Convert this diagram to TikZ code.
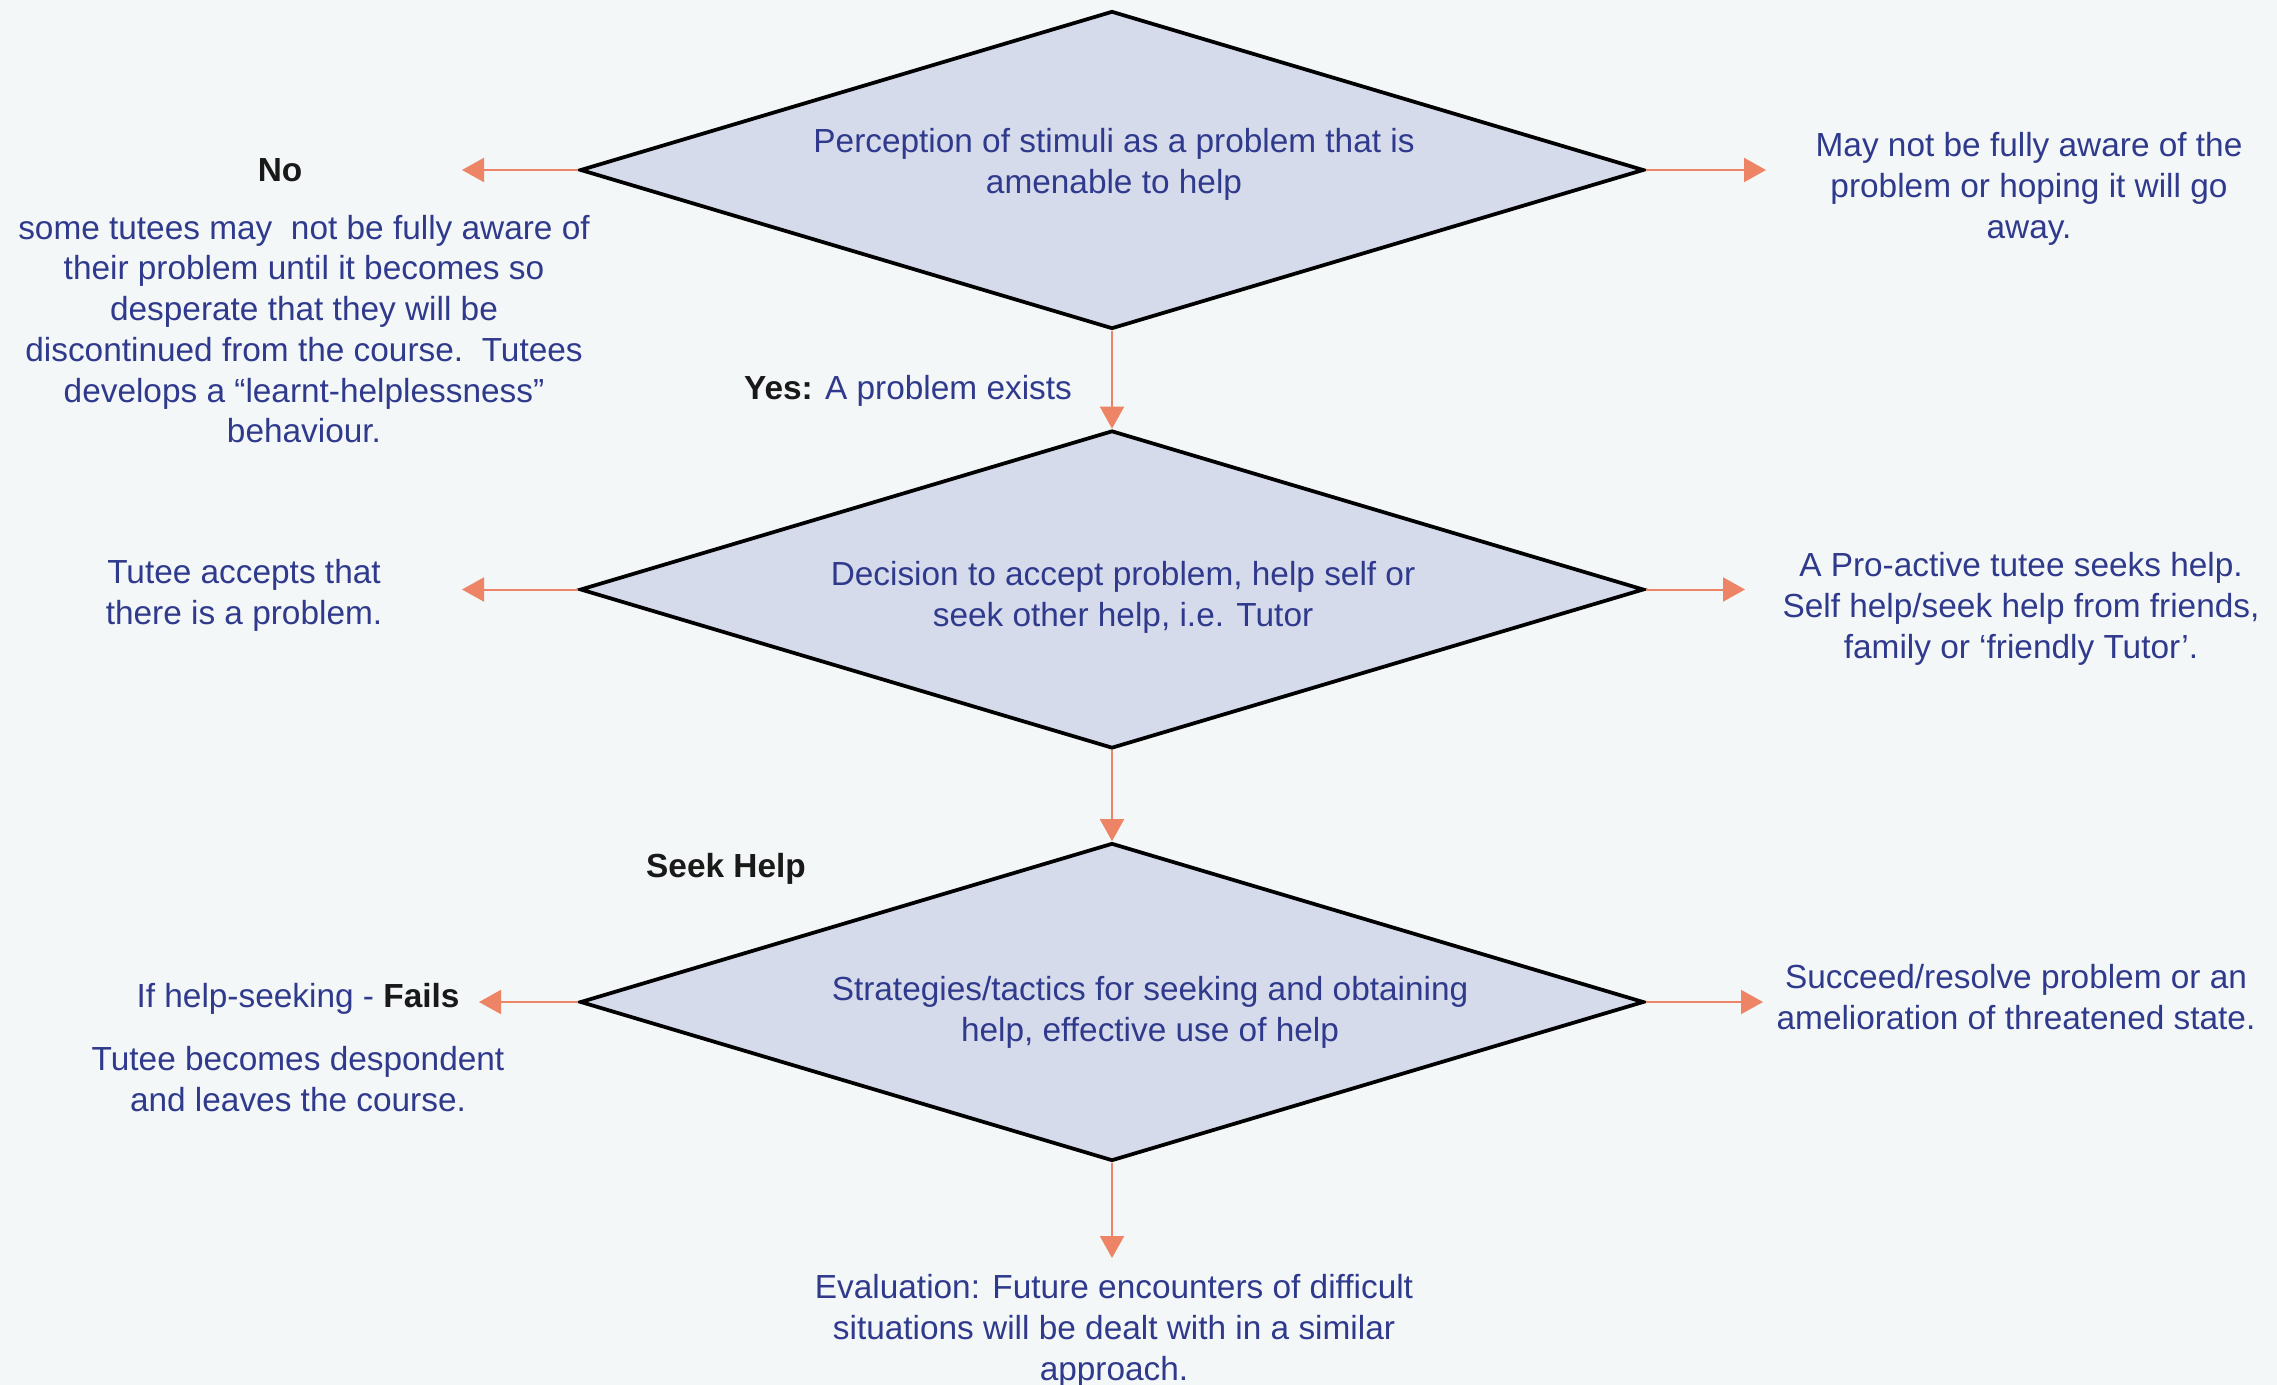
\documentclass[tikz,border=0pt]{standalone}
\usepackage{fontspec}
\setmainfont{Liberation Sans}
\usetikzlibrary{shapes.geometric,arrows.meta}
\definecolor{bg}{RGB}{243,247,248}
\definecolor{txt}{RGB}{48,58,140}
\definecolor{dfill}{RGB}{214,219,236}
\definecolor{arr}{RGB}{238,132,102}
\definecolor{lab}{RGB}{25,25,25}
\begin{document}
\begin{tikzpicture}[x=0.02cm,y=-0.02cm,
  dec/.style={diamond, draw=black, fill=dfill, line width=0.075cm, minimum width=21.28cm, minimum height=6.36cm, inner sep=0pt, aspect=3.37},
  tx/.style={text=txt, font=\fontsize{19}{23.2}\selectfont, align=center, inner sep=0pt},
  lb/.style={text=lab, font=\fontsize{19}{23.2}\selectfont\bfseries, inner sep=0pt},
  flow/.style={draw=arr, line width=0.04cm, -{Triangle[length=0.44cm,width=0.48cm]}}]
\fill[bg] (0,0) rectangle (2277,1385);
\useasboundingbox (0,0) rectangle (2277,1385);

\node[dec] (d1) at (1112,170) {};
\node[dec] (d2) at (1112,589.5) {};
\node[dec] (d3) at (1112,1002) {};

\node[tx] (t1) at (1114,164) {Perception of stimuli as a problem that is\\amenable to help};
\node[tx] (t2) at (1123,597) {Decision to accept problem, help self or\\seek other help, i.e. Tutor};
\node[tx] (t3) at (1150,1012) {Strategies/tactics for seeking and obtaining\\help, effective use of help};

\coordinate (e1l) at (462,170);
\coordinate (e1r) at (1766,170);
\coordinate (e2l) at (462,589.5);
\coordinate (e2r) at (1745,589.5);
\coordinate (e3l) at (479,1002);
\coordinate (e3r) at (1763,1002);
\coordinate (e3b) at (1112,1258);

\draw[flow] (d1.west) -- (e1l);
\draw[flow] (d1.east) -- (e1r);
\draw[flow] (d1.south) -- (d2.north);
\draw[flow] (d2.west) -- (e2l);
\draw[flow] (d2.east) -- (e2r);
\draw[flow] (d2.south) -- (d3.north);
\draw[flow] (d3.west) -- (e3l);
\draw[flow] (d3.east) -- (e3r);
\draw[flow] (d3.south) -- (e3b);

\node[lb] (no) at (280,170) {No};
\node[tx] (nodesc) at (304,329) {some tutees may\ \ not be fully aware of\\their problem until it becomes so\\desperate that they will be\\discontinued from the course.\ \ Tutees\\develops a “learnt-helplessness”\\behaviour.};
\node[tx] (r1) at (2029,189) {May not be fully aware of the\\problem or hoping it will go\\away.};
\node[tx] (yes) at (908,391) {\textcolor{lab}{\bfseries Yes:} A problem exists};
\node[tx] (l2) at (244,595) {Tutee accepts that\\there is a problem.};
\node[tx] (r2) at (2021,609) {A Pro-active tutee seeks help.\\Self help/seek help from friends,\\family or ‘friendly Tutor’.};
\node[lb] (seek) at (726,869) {Seek Help};
\node[tx] (l3a) at (298,999) {If help-seeking - \textcolor{lab}{\bfseries Fails}};
\node[tx] (l3b) at (298,1079) {Tutee becomes despondent\\and leaves the course.};
\node[tx] (r3) at (2016,997) {Succeed/resolve problem or an\\amelioration of threatened state.};
\node[tx] (ev) at (1114,1331) {Evaluation: Future encounters of difficult\\situations will be dealt with in a similar\\approach.};
\end{tikzpicture}
\end{document}
